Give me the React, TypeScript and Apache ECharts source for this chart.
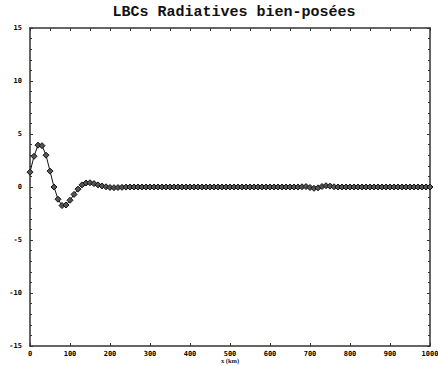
import React, { useEffect, useRef } from "react";
import * as echarts from "echarts";

// Positions along the domain (km), one sample every 10 km
const xKm: number[] = Array.from({ length: 101 }, (_, i) => i * 10);

// Field values at each sample
const values: number[] = [
  1.4, 2.9, 3.95, 3.9, 3.0, 1.5, 0.0, -1.15, -1.75, -1.7,
  -1.25, -0.7, -0.2, 0.2, 0.38, 0.4, 0.32, 0.2, 0.1, 0.02,
  -0.04, -0.06, -0.05, -0.03, -0.01, 0.0, 0.0, 0.0, 0.0, 0.0,
  0.0, 0.0, 0.0, 0.0, 0.0, 0.0, 0.0, 0.0, 0.0, 0.0,
  0.0, 0.0, 0.0, 0.0, 0.0, 0.0, 0.0, 0.0, 0.0, 0.0,
  0.0, 0.0, 0.0, 0.0, 0.0, 0.0, 0.0, 0.0, 0.0, 0.0,
  0.0, 0.0, 0.0, 0.0, 0.0, 0.0, 0.0, 0.0, 0.02, 0.04,
  -0.05, -0.12, -0.08, 0.05, 0.12, 0.08, 0.02, 0.0, 0.0, 0.0,
  0.0, 0.0, 0.0, 0.0, 0.0, 0.0, 0.0, 0.0, 0.0, 0.0,
  0.0, 0.0, 0.0, 0.0, 0.0, 0.0, 0.0, 0.0, 0.0, 0.0,
  0.0,
];

const xTicks: number[] = [0, 100, 200, 300, 400, 500, 600, 700, 800, 900, 1000];
const yTicks: number[] = [-15, -10, -5, 0, 5, 10, 15];

const TITLE = "LBCs Radiatives bien-posées";
const X_NAME = "x (km)";

const labelFont = {
  fontFamily: "DejaVu Sans Mono",
  fontWeight: "bold" as const,
  fontSize: 7,
  color: "#000",
};

export default function App() {
  const ref = useRef<HTMLDivElement>(null);

  useEffect(() => {
    if (!ref.current) return;
    const chart = echarts.init(ref.current, undefined, { renderer: "svg" });
    const axisLine = { show: true, onZero: false, lineStyle: { color: "#333", width: 1.5 } };
    const tick = { show: true, inside: true, length: 3, lineStyle: { color: "#333" } };
    const minor = { show: true, splitNumber: 5, length: 2, lineStyle: { color: "#333" } };
    chart.setOption({
      animation: false,
      backgroundColor: "#fff",
      title: {
        text: TITLE,
        left: 229,
        top: 0,
        textAlign: "center",
        textStyle: {
          fontFamily: "Liberation Mono",
          fontWeight: "bold",
          fontSize: 15,
          color: "#111",
        },
      },
      // x-axis caption, placed just under the tick labels
      graphic: [
        {
          type: "text",
          x: 230,
          y: 357,
          style: {
            text: X_NAME,
            fill: "#222",
            font: "bold 6.5px 'Liberation Serif'",
            textAlign: "center",
            textVerticalAlign: "top",
          },
        },
      ],
      grid: {
        left: 30,
        right: 8,
        top: 28,
        bottom: 20,
        containLabel: false,
        outerBoundsMode: "none",
      },
      xAxis: [
        {
          type: "value",
          position: "bottom",
          min: xTicks[0],
          max: xTicks[xTicks.length - 1],
          interval: 100,
          axisLine,
          axisTick: tick,
          axisLabel: {
            ...labelFont,
            margin: 4,
            showMaxLabel: true,
            showMinLabel: true,
            hideOverlap: false,
            formatter: (v: number) => String(v),
          },
          splitLine: { show: false },
        },
        {
          type: "value",
          position: "top",
          min: 0,
          max: 1000,
          interval: 50,
          axisLine,
          axisTick: tick,
          axisLabel: { show: false },
          splitLine: { show: false },
        },
      ],
      yAxis: [
        {
          type: "value",
          position: "left",
          min: yTicks[0],
          max: yTicks[yTicks.length - 1],
          interval: 5,
          axisLine,
          axisTick: tick,
          minorTick: minor,
          axisLabel: {
            ...labelFont,
            margin: 8,
            formatter: (v: number) => (v < 0 ? "-" + Math.abs(v) : String(v)),
          },
          splitLine: { show: false },
          minorSplitLine: { show: false },
        },
        {
          type: "value",
          position: "right",
          min: -15,
          max: 15,
          interval: 5,
          axisLine,
          axisTick: tick,
          minorTick: minor,
          axisLabel: { show: false },
          splitLine: { show: false },
          minorSplitLine: { show: false },
        },
      ],
      series: [
        {
          type: "line",
          xAxisIndex: 0,
          yAxisIndex: 0,
          data: xKm.map((x, i) => [x, values[i]]),
          symbol: "diamond",
          symbolSize: 6,
          showAllSymbol: true,
          lineStyle: { color: "#111", width: 1 },
          itemStyle: { color: "#555", borderColor: "#111", borderWidth: 1 },
        },
      ],
    });
    return () => chart.dispose();
  }, []);

  return (
    <div
      ref={ref}
      style={{ position: "fixed", left: 0, top: 0, width: 438, height: 366 }}
    />
  );
}
